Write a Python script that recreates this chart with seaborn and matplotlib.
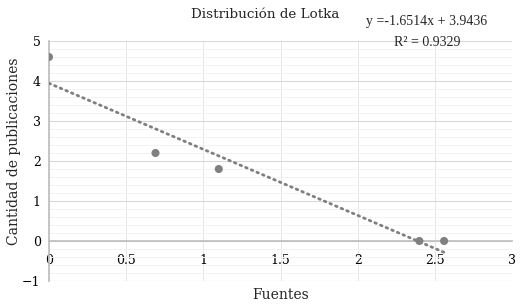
import numpy as np
import matplotlib.pyplot as plt
import seaborn as sns
from matplotlib.ticker import MultipleLocator

# datos
fuentes = [0.0, 0.69, 1.10, 2.40, 2.56]
publicaciones = [4.60, 2.20, 1.80, 0.0, 0.0]
pendiente = -1.6514
intercepto = 3.9436
r2 = 0.9329

sns.set_theme(style="white")
plt.rcParams['font.family'] = ['DejaVu Serif']

fig = plt.figure(figsize=(5.23, 3.05), dpi=100)
ax = fig.add_axes([49 / 523, 24 / 305, 463 / 523, 240 / 305])

# linea de tendencia (lineal)
xt = np.array([min(fuentes), max(fuentes)])
ax.plot(xt, pendiente * xt + intercepto, color="#7f7f7f", lw=2,
        linestyle=(0, (0.6, 1.6)), dash_capstyle="round", zorder=3)

sns.scatterplot(ax=ax, x=fuentes, y=publicaciones, color="#808080",
                s=34, edgecolor="none", zorder=4)

ax.set_xlim(0, 3)
ax.set_ylim(-1, 5)
ax.yaxis.set_major_locator(MultipleLocator(1))
ax.yaxis.set_minor_locator(MultipleLocator(0.2))
ax.set_xticks([0, 0.5, 1, 1.5, 2, 2.5, 3], ["0", "0.5", "1", "1.5", "2", "2.5", "3"])

ax.grid(which="major", axis="y", color="#d9d9d9", lw=0.8)
ax.grid(which="major", axis="x", color="#e6e6e6", lw=0.7)
ax.grid(which="minor", axis="y", color="#f2f2f2", lw=0.7)
ax.set_axisbelow(True)

for s in ["top", "right"]:
    ax.spines[s].set_visible(False)
ax.spines["bottom"].set_position(("data", 0))
ax.spines["bottom"].set_color("#bfbfbf")
ax.spines["left"].set_color("#bfbfbf")
ax.tick_params(axis="both", which="both", length=0, labelsize=9, colors="black")
ax.tick_params(axis="x", pad=9)
ax.tick_params(axis="y", pad=6)

ax.set_xlabel("Fuentes", fontsize=10)
ax.xaxis.set_label_coords(0.50, -14 / 240)
ax.xaxis.label.set_va("center")
ax.set_ylabel("Cantidad de publicaciones", fontsize=10)
ax.yaxis.set_label_coords(-35 / 463, 130 / 240)
ax.yaxis.label.set_va("center")

fig.text(265 / 523, 1 - 14 / 305, "Distribución de Lotka",
         ha="center", va="center", fontsize=9.7)
fig.text(427 / 523, 1 - 22 / 305, f"y ={pendiente}x + {intercepto}",
         ha="center", va="center", fontsize=10, family="Liberation Serif")
fig.text(427 / 523, 1 - 42 / 305, f"R² = {r2}",
         ha="center", va="center", fontsize=10, family="Liberation Serif")

fig.savefig("out.png", dpi=100)
